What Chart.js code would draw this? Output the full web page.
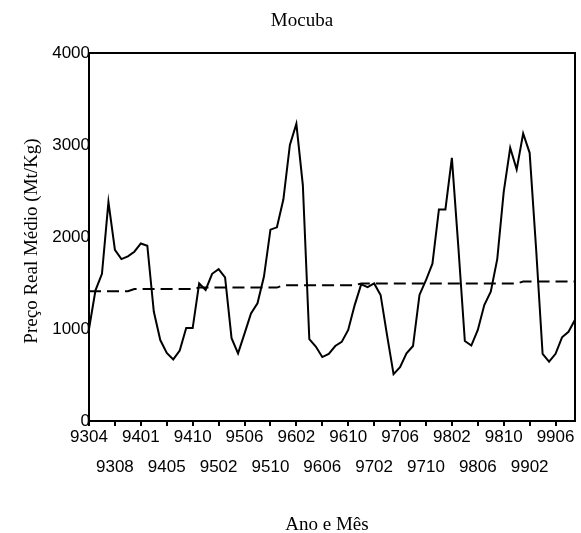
<!DOCTYPE html>
<html>
<head>
<meta charset="utf-8">
<script src="https://cdn.jsdelivr.net/npm/chart.js@4/dist/chart.umd.min.js"></script>
<style>
  body { margin: 0; background: #fff; }
  canvas { display: block; }
</style>
</head>
<body>
<canvas id="mocubaChart" width="581" height="533"></canvas>
<script>
// months shown as YYMM, one per observation
const months = [
    '9304', '9305', '9306', '9307', '9308', '9309', '9310', '9311',
    '9401', '9402', '9403', '9404', '9405', '9406', '9407', '9409',
    '9410', '9411', '9412', '9501', '9502', '9503', '9504', '9505',
    '9506', '9507', '9508', '9509', '9510', '9511', '9512', '9601',
    '9602', '9603', '9604', '9605', '9606', '9607', '9608', '9609',
    '9610', '9611', '9612', '9701', '9702', '9703', '9704', '9705',
    '9706', '9707', '9708', '9709', '9710', '9711', '9712', '9801',
    '9802', '9803', '9804', '9805', '9806', '9807', '9808', '9809',
    '9810', '9811', '9812', '9901', '9902', '9903', '9904', '9905',
    '9906', '9907', '9908', '9909'
];

// real price (Mt/Kg)
const precoReal = [
    1000, 1420, 1600, 2380, 1860, 1760, 1790, 1840, 1930, 1905,
    1190, 880, 740, 670, 765, 1010, 1010, 1495, 1425, 1600,
    1650, 1560, 900, 735, 950, 1170, 1280, 1570, 2080, 2105,
    2410, 3000, 3230, 2565, 890, 810, 695, 730, 815, 860,
    990, 1260, 1485, 1455, 1495, 1370, 930, 510, 585, 735,
    815, 1370, 1530, 1710, 2300, 2300, 2860, 1890, 870, 820,
    990, 1260, 1405, 1760, 2490, 2970, 2735, 3125, 2915, 1870,
    730, 645, 730, 910, 970, 1100
];

// average level (dashed line)
const precoMedio = [
    1410, 1410, 1410, 1410, 1410, 1410, 1410, 1435, 1435, 1435,
    1435, 1435, 1435, 1435, 1435, 1435, 1435, 1450, 1450, 1450,
    1450, 1450, 1450, 1450, 1450, 1450, 1450, 1450, 1450, 1450,
    1475, 1475, 1475, 1475, 1475, 1475, 1475, 1475, 1475, 1475,
    1475, 1475, 1495, 1495, 1495, 1495, 1495, 1495, 1495, 1495,
    1495, 1495, 1495, 1495, 1495, 1495, 1495, 1495, 1495, 1495,
    1495, 1495, 1495, 1495, 1495, 1495, 1495, 1515, 1515, 1515,
    1515, 1515, 1515, 1515, 1515, 1515
];

const yTicks = [0, 1000, 2000, 3000, 4000];

const sansFont = "'Liberation Sans', Arial, sans-serif";
const serifFont = "'Liberation Serif', 'Times New Roman', serif";

// draws the titles and the top/right frame lines
const textPlugin = {
    id: 'textPlugin',
    afterDraw(chart) {
        const ctx = chart.ctx;
        const area = chart.chartArea;
        ctx.save();
        ctx.strokeStyle = '#000';
        ctx.lineWidth = 2;
        ctx.beginPath();
        ctx.moveTo(area.left, area.top);
        ctx.lineTo(area.right, area.top);
        ctx.lineTo(area.right, area.bottom);
        ctx.stroke();

        ctx.fillStyle = '#000';
        ctx.font = '19px ' + serifFont;
        ctx.textAlign = 'center';
        ctx.textBaseline = 'middle';
        ctx.fillText('Mocuba', 302, 21);
        ctx.fillText('Ano e Mês', 327, 525);

        ctx.translate(32, 241);
        ctx.rotate(-Math.PI / 2);
        ctx.fillText('Preço Real Médio (Mt/Kg)', 0, 0);
        ctx.restore();
    }
};

function whenDocumentLoaded(action) {
    if (document.readyState === "loading") {
        document.addEventListener("DOMContentLoaded", action);
    } else {
        action();
    }
}

whenDocumentLoaded(() => {
    const ctx = document.getElementById('mocubaChart');

    new Chart(ctx, {
        type: 'line',
        data: {
            labels: months,
            datasets: [
                {
                    label: 'Preço real',
                    data: precoReal,
                    borderColor: '#000',
                    borderWidth: 2,
                    pointRadius: 0,
                    tension: 0,
                    fill: false
                },
                {
                    label: 'Média',
                    data: precoMedio,
                    borderColor: '#000',
                    borderWidth: 2,
                    borderDash: [12, 6],
                    pointRadius: 0,
                    tension: 0,
                    fill: false
                }
            ]
        },
        options: {
            responsive: false,
            animation: false,
            layout: { padding: { top: 53, right: 6, left: 0, bottom: 0 } },
            plugins: {
                legend: { display: false },
                tooltip: { enabled: false }
            },
            scales: {
                x: {
                    offset: false,
                    border: { display: true, color: '#000', width: 2 },
                    grid: {
                        drawOnChartArea: false,
                        drawTicks: true,
                        tickLength: 5,
                        lineWidth: 2,
                        tickColor: (c) => c.index % 4 === 0 ? '#000' : 'rgba(0,0,0,0)'
                    },
                    ticks: {
                        autoSkip: false,
                        maxRotation: 0,
                        minRotation: 0,
                        padding: -3,
                        color: '#000',
                        font: { family: sansFont, size: 17, lineHeight: 1.735 },
                        callback: function (value, index) {
                            if (index % 4 !== 0) return '';
                            const lab = months[index];
                            return (index / 4) % 2 === 0 ? [lab, ''] : ['', lab];
                        }
                    },
                    afterFit: (scale) => { scale.height = 112; }
                },
                y: {
                    min: 0,
                    max: 4000,
                    border: { display: true, color: '#000', width: 2 },
                    grid: { drawOnChartArea: false, drawTicks: false },
                    afterBuildTicks: (scale) => {
                        scale.ticks = yTicks.map(v => ({ value: v }));
                    },
                    ticks: {
                        padding: -1,
                        color: '#000',
                        font: { family: sansFont, size: 17 },
                        callback: (v) => String(v)
                    },
                    afterFit: (scale) => { scale.width = 89; }
                }
            }
        },
        plugins: [textPlugin]
    });
});
</script>
</body>
</html>
